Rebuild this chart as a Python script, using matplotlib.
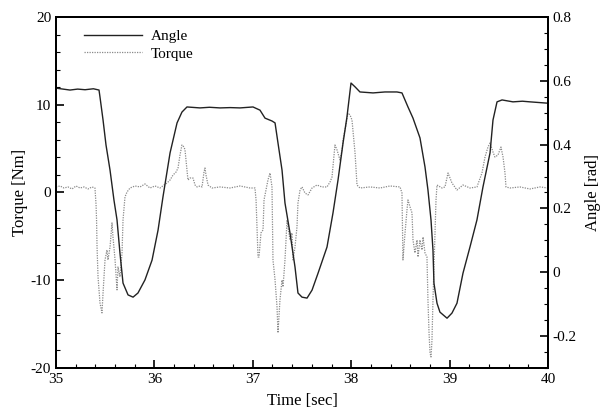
import matplotlib
matplotlib.use('Agg')
import matplotlib.pyplot as plt
from matplotlib.ticker import MultipleLocator

plt.rcParams['font.family'] = ['Liberation Serif', 'DejaVu Serif']

# angle trace (rad)
angle_t = [35.000, 35.142, 35.220, 35.295, 35.380, 35.437, 35.447, 35.478, 35.508, 35.549,
           35.589, 35.620, 35.650, 35.681, 35.732, 35.783, 35.833, 35.904, 35.976, 36.037,
           36.087, 36.159, 36.230, 36.280, 36.331, 36.463, 36.560, 36.667, 36.770, 36.870,
           37.002, 37.073, 37.124, 37.195, 37.226, 37.256, 37.297, 37.327, 37.378, 37.429,
           37.459, 37.500, 37.551, 37.602, 37.663, 37.754, 37.815, 37.866, 37.917, 37.957,
           37.998, 38.039, 38.089, 38.222, 38.343, 38.465, 38.516, 38.577, 38.628, 38.699,
           38.750, 38.780, 38.811, 38.831, 38.841, 38.872, 38.902, 38.974, 39.024, 39.075,
           39.136, 39.207, 39.278, 39.339, 39.411, 39.441, 39.482, 39.533, 39.644, 39.740,
           39.817, 39.990]
angle = [0.577, 0.571, 0.574, 0.572, 0.575, 0.571, 0.549, 0.477, 0.399, 0.320,
         0.226, 0.164, 0.060, -0.034, -0.071, -0.078, -0.065, -0.024, 0.038, 0.132,
         0.236, 0.374, 0.468, 0.502, 0.518, 0.515, 0.517, 0.515, 0.516, 0.515,
         0.518, 0.508, 0.483, 0.474, 0.468, 0.405, 0.320, 0.217, 0.123, 0.016,
         -0.065, -0.078, -0.081, -0.056, -0.003, 0.079, 0.186, 0.289, 0.405, 0.487,
         0.593, 0.581, 0.565, 0.562, 0.565, 0.565, 0.562, 0.518, 0.483, 0.421,
         0.330, 0.258, 0.164, 0.070, -0.034, -0.097, -0.125, -0.144, -0.128, -0.097,
         -0.003, 0.079, 0.164, 0.267, 0.374, 0.477, 0.534, 0.540, 0.534, 0.536,
         0.534, 0.530]

# torque trace (Nm)
torque_t = [35.000, 35.041, 35.081, 35.122, 35.163, 35.203, 35.244, 35.285, 35.325, 35.366,
            35.396, 35.407, 35.412, 35.417, 35.427, 35.447, 35.467, 35.478, 35.498, 35.518,
            35.528, 35.549, 35.569, 35.579, 35.600, 35.620, 35.630, 35.650, 35.671, 35.681,
            35.701, 35.722, 35.752, 35.803, 35.854, 35.904, 35.955, 36.006, 36.057, 36.098,
            36.128, 36.159, 36.189, 36.220, 36.240, 36.260, 36.280, 36.301, 36.311, 36.331,
            36.341, 36.362, 36.392, 36.413, 36.433, 36.463, 36.484, 36.504, 36.514, 36.524,
            36.545, 36.585, 36.667, 36.768, 36.870, 36.972, 37.022, 37.033, 37.043, 37.053,
            37.063, 37.083, 37.104, 37.114, 37.134, 37.154, 37.175, 37.185, 37.195, 37.205,
            37.226, 37.246, 37.256, 37.276, 37.297, 37.307, 37.327, 37.348, 37.358, 37.378,
            37.398, 37.409, 37.429, 37.449, 37.459, 37.480, 37.500, 37.530, 37.561, 37.602,
            37.652, 37.703, 37.754, 37.785, 37.805, 37.835, 37.856, 37.886, 37.907, 37.917,
            37.947, 37.967, 37.988, 38.008, 38.039, 38.059, 38.089, 38.191, 38.293, 38.394,
            38.496, 38.516, 38.526, 38.547, 38.567, 38.577, 38.598, 38.618, 38.628, 38.648,
            38.669, 38.679, 38.699, 38.720, 38.730, 38.750, 38.770, 38.780, 38.791, 38.801,
            38.811, 38.821, 38.831, 38.841, 38.852, 38.862, 38.872, 38.923, 38.953, 38.984,
            39.024, 39.075, 39.136, 39.207, 39.278, 39.329, 39.360, 39.390, 39.411, 39.441,
            39.461, 39.492, 39.522, 39.543, 39.563, 39.573, 39.614, 39.715, 39.817, 39.919,
            40.000]
torque = [0.63, 0.74, 0.51, 0.63, 0.40, 0.74, 0.51, 0.63, 0.40, 0.63,
          0.51, -1.42, -3.13, -6.21, -9.62, -12.59, -13.72, -11.45, -7.69, -6.55,
          -7.69, -6.21, -3.47, -5.07, -7.69, -11.10, -8.49, -9.62, -6.89, -3.13,
          -0.50, 0.06, 0.51, 0.74, 0.63, 0.97, 0.51, 0.74, 0.51, 0.85,
          1.08, 1.42, 1.99, 2.33, 2.79, 4.27, 5.41, 5.18, 4.84, 2.56,
          1.42, 1.65, 1.65, 0.85, 0.63, 0.74, 0.63, 2.33, 2.79, 2.00,
          0.85, 0.51, 0.63, 0.51, 0.74, 0.51, 0.51, -0.85, -3.93, -7.35,
          -7.35, -4.61, -4.27, -0.85, 0.28, 1.42, 2.22, 1.42, 0.63, -7.69,
          -9.97, -13.04, -16.00, -12.24, -9.97, -10.76, -7.69, -3.13, -3.93, -5.41,
          -4.61, -7.69, -6.21, -3.93, -1.20, 0.28, 0.63, -0.06, -0.28, 0.51,
          0.85, 0.63, 0.63, 1.20, 1.77, 5.41, 4.84, 3.70, 4.84, 5.98,
          7.69, 9.05, 8.83, 8.26, 4.50, 0.85, 0.51, 0.63, 0.51, 0.74,
          0.63, -0.06, -7.69, -4.61, -1.99, -0.85, -1.65, -2.33, -5.41, -6.89,
          -5.41, -7.35, -5.41, -6.55, -5.07, -6.89, -7.35, -12.24, -16.00, -18.28,
          -18.74, -16.80, -12.24, -8.49, -4.61, -0.85, 0.85, 0.51, 0.63, 2.22,
          1.08, 0.28, 0.85, 0.51, 0.63, 2.22, 4.04, 5.18, 5.64, 4.61,
          4.04, 4.27, 5.18, 4.04, 2.22, 0.63, 0.51, 0.63, 0.40, 0.63,
          0.51]

fig = plt.figure(figsize=(6.01, 4.15), dpi=100)
ax = fig.add_axes([0.0932, 0.1133, 0.8186, 0.8458])
ax2 = ax.twinx()

l2, = ax.plot(torque_t, torque, color='#8a8a8a', lw=0.9, ls=(0, (1, 1)), label='Torque')
l1, = ax2.plot(angle_t, angle, color='#222222', lw=1.0, label='Angle')

ax.set_xlim(35, 40)
ax.set_ylim(-20, 20)
ax2.set_ylim(-0.3, 0.8)

ax.xaxis.set_major_locator(MultipleLocator(1))
ax.xaxis.set_minor_locator(MultipleLocator(0.2))
ax.yaxis.set_minor_locator(MultipleLocator(2))
ax2.yaxis.set_minor_locator(MultipleLocator(0.05))
ax2.set_yticks([-0.2, 0, 0.2, 0.4, 0.6, 0.8])
ax2.set_yticklabels(['-0.2', '0', '0.2', '0.4', '0.6', '0.8'])
ax.set_yticks([-20, -10, 0, 10, 20])
ax.set_yticklabels(['-20', '-10', '0', '10', '20'])

for a in (ax, ax2):
    a.tick_params(which='major', direction='in', length=6, width=1.2, labelsize=11)
    a.tick_params(which='minor', direction='in', length=3, width=0.8)
    for s in a.spines.values():
        s.set_linewidth(1.4)

ax.set_xlabel('Time [sec]', fontsize=12, labelpad=5)
ax.set_ylabel('Torque [Nm]', fontsize=12, labelpad=2)
ax2.set_ylabel('Angle [rad]', fontsize=12, labelpad=6)

ax.legend(handles=[l1, l2], loc='upper left', bbox_to_anchor=(0.035, 0.995),
          frameon=False, fontsize=11, handlelength=3.8, handletextpad=0.6,
          borderaxespad=0.3, labelspacing=0.25)

fig.savefig('out.png', dpi=100)
